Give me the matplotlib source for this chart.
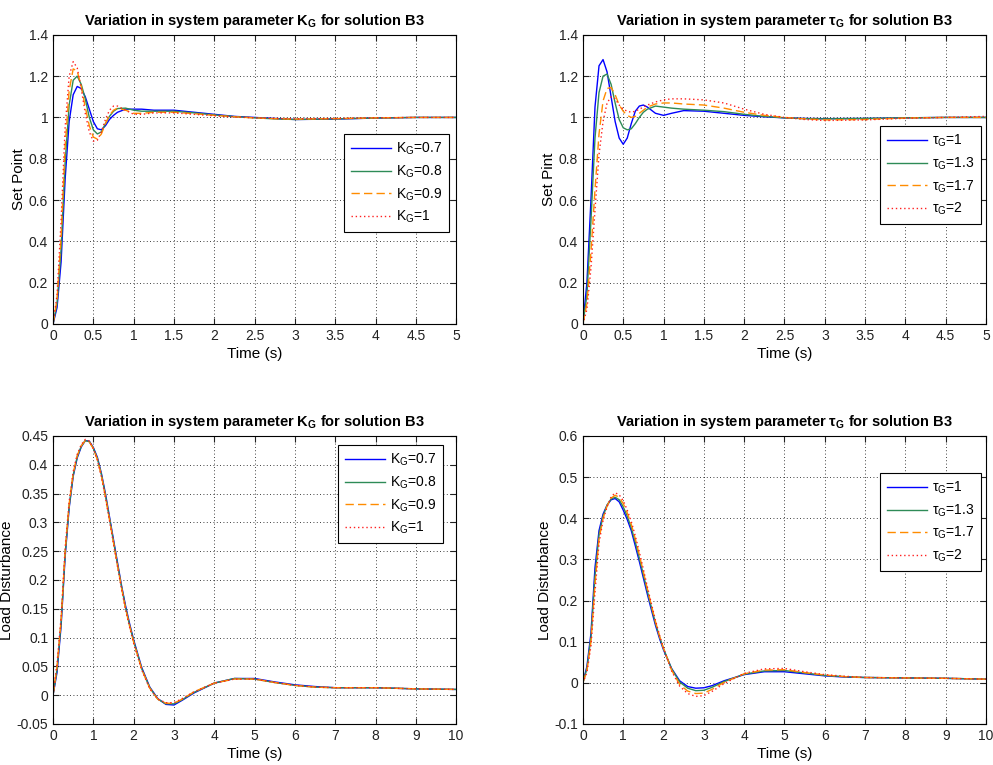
import matplotlib
matplotlib.use('Agg')
import matplotlib.pyplot as plt

plt.rcParams['font.family'] = ['Liberation Sans', 'DejaVu Sans']
plt.rcParams['mathtext.fontset'] = 'custom'
plt.rcParams['mathtext.rm'] = 'Liberation Sans'
plt.rcParams['mathtext.it'] = 'Liberation Sans:italic'
plt.rcParams['mathtext.bf'] = 'Liberation Sans:bold'

COLORS = ['#0000ff', '#2e8b57', '#ff8c00', '#ff2020']
STYLES = ['-', '-', (0, (6, 3)), (0, (1, 2))]

# ---- set point response, varying K_G ----
T_SP = [0, 0.05, 0.1, 0.15, 0.2, 0.25, 0.3, 0.35, 0.4, 0.45, 0.5, 0.55, 0.6,
        0.65, 0.7, 0.75, 0.8, 0.9, 1.0, 1.1, 1.25, 1.5, 1.75, 2.0, 2.25, 2.5,
        2.75, 3.0, 3.5, 4.0, 4.5, 5.0]
KG_LABELS = ['0.7', '0.8', '0.9', '1']
SP_KG = [
    [0, 0.08, 0.3, 0.7, 0.98, 1.11, 1.15, 1.14, 1.1, 1.04, 0.98, 0.945, 0.94,
     0.96, 0.99, 1.01, 1.025, 1.04, 1.04, 1.04, 1.035, 1.035, 1.025, 1.015,
     1.005, 1.0, 0.995, 0.99, 0.992, 0.997, 1.0, 1.0],
    [0, 0.1, 0.36, 0.78, 1.06, 1.18, 1.2, 1.16, 1.09, 1.0, 0.94, 0.92, 0.93,
     0.97, 1.005, 1.03, 1.043, 1.045, 1.035, 1.03, 1.03, 1.03, 1.022, 1.012,
     1.004, 0.998, 0.993, 0.99, 0.993, 0.997, 1.0, 1.0],
    [0, 0.12, 0.42, 0.86, 1.13, 1.235, 1.225, 1.15, 1.05, 0.96, 0.905, 0.895,
     0.92, 0.97, 1.01, 1.035, 1.045, 1.035, 1.02, 1.02, 1.025, 1.025, 1.018,
     1.01, 1.003, 0.998, 0.994, 0.992, 0.994, 0.998, 1.0, 1.0],
    [0, 0.14, 0.5, 0.95, 1.2, 1.27, 1.24, 1.14, 1.02, 0.93, 0.885, 0.89, 0.93,
     0.99, 1.035, 1.055, 1.055, 1.035, 1.015, 1.015, 1.022, 1.022, 1.015,
     1.008, 1.002, 0.998, 0.995, 0.993, 0.995, 0.998, 1.0, 1.0],
]

# ---- set point response, varying tau_G ----
TAU_LABELS = ['1', '1.3', '1.7', '2']
SP_TAU = [
    [0, 0.2, 0.6, 1.05, 1.25, 1.28, 1.22, 1.1, 0.98, 0.9, 0.87, 0.9, 0.97,
     1.03, 1.055, 1.06, 1.05, 1.02, 1.01, 1.02, 1.033, 1.03, 1.02, 1.01,
     1.003, 0.998, 0.995, 0.994, 0.995, 0.998, 1.0, 1.0],
    [0, 0.14, 0.5, 0.9, 1.12, 1.2, 1.21, 1.16, 1.07, 0.99, 0.95, 0.94, 0.945,
     0.97, 1.0, 1.025, 1.04, 1.055, 1.05, 1.045, 1.04, 1.035, 1.028, 1.015,
     1.005, 0.998, 0.994, 0.993, 0.995, 0.998, 1.0, 1.0],
    [0, 0.1, 0.35, 0.65, 0.92, 1.08, 1.14, 1.145, 1.11, 1.06, 1.03, 1.01,
     1.0, 1.005, 1.02, 1.035, 1.05, 1.065, 1.07, 1.07, 1.065, 1.06, 1.045,
     1.025, 1.01, 1.0, 0.993, 0.988, 0.99, 0.997, 1.0, 1.0],
    [0, 0.07, 0.27, 0.55, 0.82, 0.98, 1.07, 1.1, 1.09, 1.06, 1.04, 1.03,
     1.025, 1.03, 1.04, 1.05, 1.06, 1.075, 1.085, 1.09, 1.09, 1.085, 1.07,
     1.04, 1.015, 1.0, 0.99, 0.985, 0.988, 0.996, 1.0, 1.005],
]

# ---- load disturbance response ----
T_LD = [0, 0.1, 0.2, 0.3, 0.4, 0.5, 0.6, 0.7, 0.8, 0.9, 1.0, 1.1, 1.2, 1.3,
        1.4, 1.5, 1.6, 1.7, 1.8, 1.9, 2.0, 2.2, 2.4, 2.6, 2.8, 3.0, 3.2, 3.5,
        4.0, 4.5, 5.0, 5.5, 6.0, 6.5, 7.0, 8.0, 9.0, 10.0]
LD_KG = [
    [0, 0.04, 0.12, 0.24, 0.325, 0.38, 0.412, 0.431, 0.442, 0.441, 0.43,
     0.413, 0.385, 0.35, 0.31, 0.27, 0.23, 0.19, 0.155, 0.124, 0.096, 0.048,
     0.014, -0.006, -0.016, -0.017, -0.009, 0.004, 0.021, 0.029, 0.029, 0.023,
     0.018, 0.015, 0.013, 0.013, 0.011, 0.01],
    [0, 0.045, 0.125, 0.245, 0.328, 0.382, 0.414, 0.432, 0.442, 0.44, 0.429,
     0.411, 0.383, 0.347, 0.307, 0.267, 0.227, 0.188, 0.152, 0.121, 0.094,
     0.046, 0.013, -0.007, -0.015, -0.015, -0.008, 0.005, 0.021, 0.029,
     0.028, 0.022, 0.017, 0.014, 0.013, 0.013, 0.011, 0.01],
    [0, 0.05, 0.13, 0.25, 0.332, 0.385, 0.416, 0.433, 0.442, 0.44, 0.428,
     0.409, 0.381, 0.345, 0.305, 0.265, 0.225, 0.186, 0.15, 0.12, 0.092,
     0.045, 0.012, -0.007, -0.014, -0.014, -0.007, 0.006, 0.021, 0.028,
     0.028, 0.022, 0.017, 0.014, 0.013, 0.013, 0.011, 0.01],
    [0, 0.055, 0.135, 0.255, 0.336, 0.388, 0.418, 0.435, 0.444, 0.441, 0.428,
     0.408, 0.379, 0.343, 0.303, 0.263, 0.223, 0.184, 0.148, 0.118, 0.09,
     0.044, 0.011, -0.007, -0.013, -0.013, -0.006, 0.006, 0.021, 0.028,
     0.028, 0.022, 0.017, 0.014, 0.013, 0.013, 0.011, 0.01],
]
LD_TAU = [
    [0, 0.04, 0.12, 0.28, 0.37, 0.41, 0.432, 0.445, 0.448, 0.44, 0.42, 0.397,
     0.37, 0.333, 0.295, 0.255, 0.215, 0.177, 0.14, 0.108, 0.08, 0.035, 0.005,
     -0.009, -0.013, -0.012, -0.007, 0.005, 0.02, 0.027, 0.027, 0.022, 0.017,
     0.014, 0.013, 0.012, 0.011, 0.009],
    [0, 0.035, 0.11, 0.26, 0.36, 0.405, 0.432, 0.447, 0.451, 0.445, 0.428,
     0.405, 0.377, 0.342, 0.303, 0.263, 0.222, 0.183, 0.145, 0.112, 0.083,
     0.034, 0.002, -0.013, -0.019, -0.018, -0.011, 0.003, 0.021, 0.029, 0.03,
     0.024, 0.018, 0.015, 0.013, 0.012, 0.011, 0.009],
    [0, 0.03, 0.1, 0.24, 0.35, 0.4, 0.43, 0.449, 0.456, 0.451, 0.436, 0.413,
     0.385, 0.35, 0.311, 0.27, 0.228, 0.188, 0.149, 0.114, 0.084, 0.031,
     -0.004, -0.02, -0.026, -0.025, -0.016, 0.001, 0.022, 0.031, 0.032,
     0.025, 0.019, 0.015, 0.013, 0.012, 0.011, 0.009],
    [0, 0.025, 0.09, 0.22, 0.34, 0.395, 0.428, 0.452, 0.462, 0.457, 0.443,
     0.42, 0.392, 0.357, 0.318, 0.276, 0.233, 0.192, 0.152, 0.116, 0.085,
     0.029, -0.008, -0.026, -0.033, -0.031, -0.021, -0.002, 0.023, 0.034,
     0.035, 0.027, 0.02, 0.016, 0.013, 0.012, 0.011, 0.009],
]

KG_TEX = r'\mathregular{K_G}'
TAU_TEX = r'\mathregular{τ_G}'


def draw(ax, t, series, labels, sym, ylabel, xlim, ylim, yticks,
         legend_anchor):
    for i, ys in enumerate(series):
        ax.plot(t, ys, color=COLORS[i], linestyle=STYLES[i], linewidth=1,
                label=f'${sym}$={labels[i]}')
    ax.set_xlim(xlim)
    ax.set_ylim(ylim)
    ax.set_yticks(yticks)
    ax.set_title(f'Variation in system parameter ${sym}$ for solution B3',
                 fontsize=10.5, fontweight='bold', pad=7)
    ax.set_xlabel('Time (s)', fontsize=11, labelpad=3)
    ax.set_ylabel(ylabel, fontsize=11, labelpad=2)
    ax.grid(True, color='black', linestyle=(0, (1, 3)), linewidth=0.6)
    ax.tick_params(direction='in', top=True, right=True, labelsize=10,
                   length=4, colors='#222222')
    for sp in ax.spines.values():
        sp.set_linewidth(0.8)
    leg = ax.legend(loc='upper right', bbox_to_anchor=legend_anchor,
                    fontsize=10, fancybox=False, edgecolor='black',
                    framealpha=1, handlelength=2.9, labelspacing=0.45,
                    borderpad=0.5, handletextpad=0.35, borderaxespad=0)
    leg.get_frame().set_linewidth(0.8)


fig = plt.figure(figsize=(9.93, 7.65), dpi=100)
ax1 = fig.add_axes([0.0534, 0.5765, 0.406, 0.378])
ax2 = fig.add_axes([0.587, 0.5765, 0.406, 0.378])
ax3 = fig.add_axes([0.0534, 0.0536, 0.406, 0.3765])
ax4 = fig.add_axes([0.587, 0.0536, 0.406, 0.3765])

sp_ticks = [0, 0.2, 0.4, 0.6, 0.8, 1, 1.2, 1.4]
draw(ax1, T_SP, SP_KG, KG_LABELS, KG_TEX, 'Set Point', (0, 5),
     (0, 1.4), sp_ticks, (0.983, 0.657))
draw(ax2, T_SP, SP_TAU, TAU_LABELS, TAU_TEX, 'Set Pint', (0, 5),
     (0, 1.4), sp_ticks, (0.988, 0.685))
draw(ax3, T_LD, LD_KG, KG_LABELS, KG_TEX, 'Load Disturbance',
     (0, 10), (-0.05, 0.45),
     [-0.05, 0, 0.05, 0.1, 0.15, 0.2, 0.25, 0.3, 0.35, 0.4, 0.45],
     (0.968, 0.969))
draw(ax4, T_LD, LD_TAU, TAU_LABELS, TAU_TEX, 'Load Disturbance',
     (0, 10), (-0.1, 0.6), [-0.1, 0, 0.1, 0.2, 0.3, 0.4, 0.5, 0.6],
     (0.988, 0.872))
for ax in (ax1, ax2):
    ax.set_xticks([0, 0.5, 1, 1.5, 2, 2.5, 3, 3.5, 4, 4.5, 5])
    ax.set_xticklabels(['0', '0.5', '1', '1.5', '2', '2.5', '3', '3.5', '4',
                        '4.5', '5'])
    ax.set_yticklabels(['0', '0.2', '0.4', '0.6', '0.8', '1', '1.2', '1.4'])
for ax in (ax3, ax4):
    ax.set_xticks(range(0, 11))
ax3.set_yticklabels(['-0.05', '0', '0.05', '0.1', '0.15', '0.2', '0.25',
                     '0.3', '0.35', '0.4', '0.45'])
ax4.set_yticklabels(['-0.1', '0', '0.1', '0.2', '0.3', '0.4', '0.5', '0.6'])

fig.savefig('out.png', dpi=100)
